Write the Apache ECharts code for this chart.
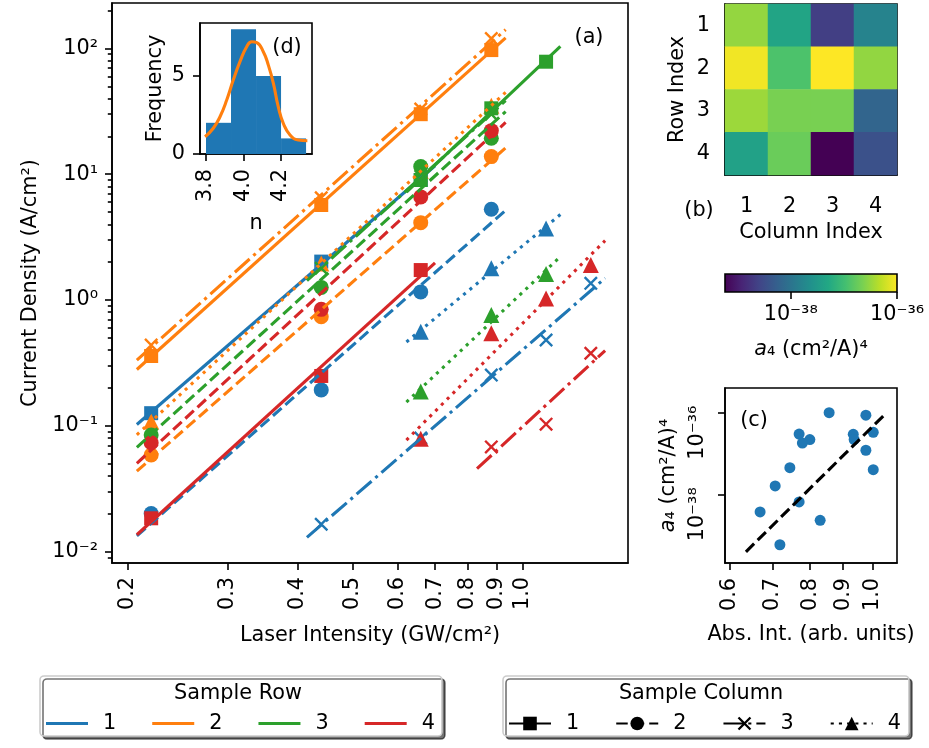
<!DOCTYPE html>
<html>
<head>
<meta charset="utf-8">
<script src="https://cdn.jsdelivr.net/npm/echarts@6/dist/echarts.min.js"></script>
<style>
  html, body { margin: 0; padding: 0; background: #fff; }
  #chart { width: 929px; height: 748px; }
</style>
</head>
<body>
<div id="chart"></div>
<script>
// ---------------- data ----------------
// Laser intensities of the measurement steps (GW/cm²)
const intensity = [0.22, 0.44, 0.66, 0.88, 1.10, 1.32];

// Current density (A/cm²) per sample (row R, column C); null = no measurement at that step
const jR1C1 = [0.126, 2.02, 9.0, null, null, null];
const jR1C2 = [0.0201, 0.193, 1.16, 5.26, null, null];
const jR1C3 = [null, 0.0165, 0.08, 0.253, 0.481, 1.357];
const jR1C4 = [null, null, 0.56, 1.79, 3.71, null];
const jR2C1 = [0.359, 5.69, 30, 97, null, null];
const jR2C2 = [0.0586, 0.736, 4.12, 13.8, null, null];
const jR2C3 = [0.438, 6.5, 33, 120, null, null];
const jR2C4 = [0.108, 1.95, 10.6, 35, null, null];
const jR3C1 = [null, null, 9.0, 33.4, 78.4, null];
const jR3C2 = [0.0845, 1.26, 11.5, 19.3, null, null];
const jR3C3 = [null, 1.79, 9.6, 30, null, null];
const jR3C4 = [null, null, 0.187, 0.76, 1.61, null];
const jR4C1 = [0.0184, 0.249, 1.73, null, null, null];
const jR4C2 = [0.0734, 0.843, 6.6, 22.2, null, null];
const jR4C3 = [null, null, null, 0.068, 0.103, 0.377];
const jR4C4 = [null, null, 0.079, 0.543, 1.03, 1.90];

// Four-photon coefficient a4 ((cm²/A)^4) per sample, one array per row, columns 1..4
const a4Row1 = [3.0e-37, 4.5e-38, 2.3e-39, 1.6e-38];
const a4Row2 = [8.7e-37, 1.2e-37, 1.0e-36, 2.95e-37];
const a4Row3 = [3.3e-37, 2.2e-37, 2.2e-37, 6.5e-39];
const a4Row4 = [4.0e-38, 1.8e-37, 5.8e-40, 3.7e-39];

// Absorption intensity (arb. units) per sample, same layout
const absRow1 = [0.769, 0.744, 0.829, 0.706];
const absRow2 = [0.976, 0.976, 0.856, 0.933];
const absRow3 = [1.002, 0.799, 0.936, 0.769];
const absRow4 = [1.002, 0.778, 0.718, 0.669];

// Trend line of a4 against absorption intensity (end points)
const trendAbs = [0.636, 1.051];
const trendA4 = [3.9e-40, 1.0e-36];

// Histogram of the fitted exponents n
const nBinEdges = [3.800, 3.934, 4.068, 4.202, 4.336];
const nCounts = [2, 8, 5, 1];
// Smooth density estimate over the histogram (frequency units)
const nCurveX = [3.795, 3.839, 3.875, 3.911, 3.946, 3.982, 4.018, 4.045, 4.072, 4.107, 4.134, 4.161, 4.187, 4.214, 4.25, 4.294, 4.343];
const nCurveY = [1.11, 1.65, 2.39, 3.46, 4.74, 5.92, 6.88, 7.2, 7.14, 6.56, 5.7, 4.53, 3.03, 1.97, 1.22, 0.90, 0.85];

// Tick positions
const intensityTicks = [0.2, 0.3, 0.4, 0.5, 0.6, 0.7, 0.8, 0.9, 1.0];
const densityDecades = [-2, -1, 0, 1, 2];
const absTicks = [0.6, 0.7, 0.8, 0.9, 1.0];
const a4Decades = [-38, -36];
const nTicks = [3.8, 4.0, 4.2];
const freqTicks = [0, 5];

// ---------------- styling ----------------
const FONT = 'DejaVu Sans';
const FS = 20.8;
const LW = 3.1;
const rowColors = ['#1f77b4', '#ff7f0e', '#2ca02c', '#d62728'];
const X_PATH = 'path://M0,1.2L1.2,0L10,8.8L8.8,10ZM8.8,0L10,1.2L1.2,10L0,8.8Z';
const colMarkers = ['rect', 'circle', X_PATH, 'triangle'];
const colSizes = [14, 15, 14, 16];
const DASHED = [11.5, 5];
const DASHDOT = [19.8, 5, 3.1, 5];
const DOTTED = [3.1, 5.1];
const colDash = ['solid', DASHED, DASHDOT, DOTTED];
const FIT_PAD = 1.06;
const viridis = ['#440154', '#482475', '#414487', '#355f8d', '#2a788e', '#21918c',
                 '#22a884', '#44bf70', '#7ad151', '#bddf26', '#fde725'];

const SUP = { '0': '⁰', '1': '¹', '2': '²', '3': '³', '4': '⁴', '5': '⁵', '6': '⁶', '7': '⁷', '8': '⁸', '9': '⁹', '-': '⁻' };
const pow10Label = v => '10' + String(Math.round(v)).split('').map(ch => SUP[ch]).join('');
const log10 = Math.log10;

// ---------------- derived ----------------
const jData = [
  [jR1C1, jR1C2, jR1C3, jR1C4],
  [jR2C1, jR2C2, jR2C3, jR2C4],
  [jR3C1, jR3C2, jR3C3, jR3C4],
  [jR4C1, jR4C2, jR4C3, jR4C4]
];
const a4Rows = [a4Row1, a4Row2, a4Row3, a4Row4];
const absRows = [absRow1, absRow2, absRow3, absRow4];

// least squares power law in log-log space
function powerFit(pts) {
  const n = pts.length;
  const mx = pts.reduce((s, p) => s + p[0], 0) / n;
  const my = pts.reduce((s, p) => s + p[1], 0) / n;
  let sxy = 0, sxx = 0;
  pts.forEach(p => { sxy += (p[0] - mx) * (p[1] - my); sxx += (p[0] - mx) * (p[0] - mx); });
  const slope = sxy / sxx;
  return { slope, intercept: my - slope * mx };
}

const series = [];
jData.forEach((row, r) => {
  row.forEach((ys, c) => {
    const pts = [];
    intensity.forEach((x, i) => { if (ys[i] != null) pts.push([log10(x), log10(ys[i])]); });
    const fit = powerFit(pts);
    const lx0 = Math.min(...pts.map(p => p[0])) - log10(FIT_PAD);
    const lx1 = Math.max(...pts.map(p => p[0])) + log10(FIT_PAD);
    const name = 'Row ' + (r + 1) + ', Column ' + (c + 1);
    series.push({
      type: 'line', name: name + ' fit', xAxisIndex: 0, yAxisIndex: 0,
      data: [[lx0, fit.intercept + fit.slope * lx0], [lx1, fit.intercept + fit.slope * lx1]],
      symbol: 'none', silent: true,
      lineStyle: { color: rowColors[r], width: LW, type: colDash[c], cap: 'butt' }
    });
    series.push({
      type: 'scatter', name: name, xAxisIndex: 0, yAxisIndex: 0,
      data: pts, symbol: colMarkers[c], symbolSize: colSizes[c],
      itemStyle: { color: rowColors[r], opacity: 1 }
    });
  });
});

// heatmap (b)
const heatData = [];
a4Rows.forEach((row, r) => row.forEach((v, c) => heatData.push([c, r, log10(v)])));
const logA4All = heatData.map(d => d[2]);
const cMin = Math.min(...logA4All), cMax = Math.max(...logA4All);
const heatIndex = series.length;
series.push({
  type: 'heatmap', name: 'a4 map', xAxisIndex: 1, yAxisIndex: 2, data: heatData,
  itemStyle: { borderWidth: 0 }
});

// scatter (c)
const absA4 = [];
a4Rows.forEach((row, r) => row.forEach((v, c) => absA4.push([log10(absRows[r][c]), log10(v)])));
series.push({
  type: 'line', name: 'trend', xAxisIndex: 2, yAxisIndex: 3, symbol: 'none', silent: true,
  data: trendAbs.map((x, i) => [log10(x), log10(trendA4[i])]),
  lineStyle: { color: '#000', width: LW, type: DASHED, cap: 'butt' }
});
series.push({
  type: 'scatter', name: 'a4 vs absorption', xAxisIndex: 2, yAxisIndex: 3,
  data: absA4, symbol: 'circle', symbolSize: 11, itemStyle: { color: '#1f77b4', opacity: 1 }
});

// histogram (d)
series.push({
  type: 'custom', name: 'n histogram', xAxisIndex: 3, yAxisIndex: 4,
  data: nCounts.map((cnt, i) => [nBinEdges[i], nBinEdges[i + 1], cnt]),
  encode: { x: [0, 1], y: 2 },
  renderItem: (params, api) => {
    const p0 = api.coord([api.value(0), api.value(2)]);
    const p1 = api.coord([api.value(1), 0]);
    return { type: 'rect', shape: { x: p0[0], y: p0[1], width: p1[0] - p0[0], height: p1[1] - p0[1] },
             style: { fill: '#1f77b4' } };
  }
});
series.push({
  type: 'line', name: 'n density', xAxisIndex: 3, yAxisIndex: 4, symbol: 'none', smooth: true,
  data: nCurveX.map((x, i) => [x, nCurveY[i]]),
  lineStyle: { color: '#ff7f0e', width: LW }
});

// legend entries
['Row 1', 'Row 2', 'Row 3', 'Row 4'].forEach((nm, r) => series.push({
  type: 'line', name: nm, xAxisIndex: 0, yAxisIndex: 0, data: [],
  itemStyle: { color: rowColors[r] }, lineStyle: { color: rowColors[r], width: LW }
}));
['Column 1', 'Column 2', 'Column 3', 'Column 4'].forEach((nm, c) => series.push({
  type: 'line', name: nm, xAxisIndex: 0, yAxisIndex: 0, data: [],
  symbol: colMarkers[c], symbolSize: colSizes[c],
  itemStyle: { color: '#000' }, lineStyle: { color: '#000', width: LW, type: colDash[c], cap: 'butt' }
}));

// ---------------- axes ----------------
const AX_LINE = { onZero: false, lineStyle: { color: '#000', width: 1.6 } };
const tick = (vals, len) => ({ show: true, customValues: vals, length: len || 7, lineStyle: { color: '#000', width: 1.6 } });
const lbl = (vals, extra) => Object.assign({ customValues: vals, fontSize: FS, fontFamily: FONT, color: '#000', margin: 14 }, extra || {});
const nameStyle = { fontSize: FS, fontFamily: FONT, color: '#000' };
const italicRich = { i: { fontSize: FS, fontFamily: FONT, fontStyle: 'italic', color: '#000' } };

const minorDensity = [];
for (let k = -3; k <= 2; k++) for (let m = 2; m <= 9; m++) {
  const v = k + log10(m);
  if (v > -2.0906 && v < 2.361) minorDensity.push(v);
}

const CB = { left: 725, top: 274, width: 172, height: 18 };

const option = {
  animation: false,
  backgroundColor: '#fff',
  textStyle: { fontFamily: FONT, color: '#000' },
  grid: [
    { left: 112, top: 3, width: 516, height: 560, show: true, borderColor: '#000', borderWidth: 1.6, backgroundColor: 'transparent', outerBoundsMode: 'none' },
    { left: 725, top: 4, width: 172, height: 171, show: true, borderColor: '#000', borderWidth: 1.6, backgroundColor: 'transparent', outerBoundsMode: 'none' },
    { left: 725, top: 388, width: 172, height: 175, show: true, borderColor: '#000', borderWidth: 1.6, backgroundColor: 'transparent', outerBoundsMode: 'none' },
    { left: 200, top: 23, width: 112, height: 131, show: true, borderColor: '#000', borderWidth: 1.6, backgroundColor: '#fff', outerBoundsMode: 'none' },
    { left: CB.left, top: CB.top, width: CB.width, height: CB.height, show: false, outerBoundsMode: 'none' }
  ],
  xAxis: [
    { type: 'value', gridIndex: 0, min: -0.7269, max: 0.1864, axisLine: AX_LINE,
      axisTick: tick(intensityTicks.map(log10)),
      axisLabel: lbl(intensityTicks.map(log10), { rotate: 90, formatter: v => Math.pow(10, v).toFixed(1) }),
      splitLine: { show: false },
      name: 'Laser Intensity (GW/cm²)', nameLocation: 'middle', nameGap: 62, nameTextStyle: nameStyle },
    { type: 'category', gridIndex: 1, data: ['1', '2', '3', '4'], axisLine: AX_LINE,
      axisTick: { alignWithLabel: true, length: 7, lineStyle: { color: '#000', width: 1.6 } },
      axisLabel: { fontSize: FS, fontFamily: FONT, color: '#000', margin: 21 },
      splitLine: { show: false }, splitArea: { show: false },
      name: 'Column Index', nameLocation: 'middle', nameGap: 47, nameTextStyle: nameStyle },
    { type: 'value', gridIndex: 2, min: -0.229, max: 0.0377, axisLine: AX_LINE,
      axisTick: tick(absTicks.map(log10)),
      axisLabel: lbl(absTicks.map(log10), { rotate: 90, margin: 15, formatter: v => Math.pow(10, v).toFixed(1) }),
      splitLine: { show: false },
      name: 'Abs. Int. (arb. units)', nameLocation: 'middle', nameGap: 61, nameTextStyle: nameStyle },
    { type: 'value', gridIndex: 3, min: 3.7679, max: 4.3678, axisLine: AX_LINE,
      axisTick: tick(nTicks),
      axisLabel: lbl(nTicks, { rotate: 90, margin: 15, formatter: v => v.toFixed(1) }),
      splitLine: { show: false },
      name: 'n', nameLocation: 'middle', nameGap: 59, nameTextStyle: nameStyle },
    { type: 'value', gridIndex: 4, min: cMin, max: cMax, axisLine: { show: false, onZero: false },
      axisTick: tick(a4Decades),
      axisLabel: lbl(a4Decades, { formatter: pow10Label, margin: 12 }),
      splitLine: { show: false },
      name: '{i|a}₄ (cm²/A)⁴', nameLocation: 'middle', nameGap: 47,
      nameTextStyle: Object.assign({ rich: italicRich }, nameStyle) }
  ],
  yAxis: [
    { type: 'value', gridIndex: 0, min: -2.0906, max: 2.361, axisLine: AX_LINE,
      axisTick: tick(densityDecades),
      axisLabel: lbl(densityDecades, { formatter: pow10Label }),
      splitLine: { show: false },
      name: 'Current Density (A/cm²)', nameLocation: 'middle', nameGap: 68, nameTextStyle: nameStyle },
    { type: 'value', gridIndex: 0, min: -2.0906, max: 2.361, position: 'left',
      axisLine: { show: false, onZero: false }, axisTick: tick(minorDensity, 4.2),
      axisLabel: { show: false }, splitLine: { show: false } },
    { type: 'category', gridIndex: 1, inverse: true, data: ['1', '2', '3', '4'], axisLine: AX_LINE,
      axisTick: { alignWithLabel: true, length: 7, lineStyle: { color: '#000', width: 1.6 } },
      axisLabel: { fontSize: FS, fontFamily: FONT, color: '#000', margin: 15 },
      splitLine: { show: false }, splitArea: { show: false },
      name: 'Row Index', nameLocation: 'middle', nameGap: 37, nameTextStyle: nameStyle },
    { type: 'value', gridIndex: 2, min: -39.684, max: -35.395, axisLine: AX_LINE,
      axisTick: tick(a4Decades),
      axisLabel: lbl(a4Decades, { rotate: 90, margin: 17, formatter: pow10Label, padding: [0, 40, 0, 0] }),
      splitLine: { show: false },
      name: '{i|a}₄ (cm²/A)⁴', nameLocation: 'middle', nameGap: 46,
      nameTextStyle: Object.assign({ rich: italicRich }, nameStyle) },
    { type: 'value', gridIndex: 3, min: 0, max: 8.4, axisLine: AX_LINE,
      axisTick: tick(freqTicks),
      axisLabel: lbl(freqTicks, { margin: 15 }),
      splitLine: { show: false },
      name: 'Frequency', nameLocation: 'middle', nameGap: 34, nameTextStyle: nameStyle },
    { type: 'value', gridIndex: 4, min: 0, max: 1, show: false }
  ],
  visualMap: [{
    type: 'continuous', show: false, seriesIndex: heatIndex, dimension: 2,
    min: cMin, max: cMax, inRange: { color: viridis }
  }],
  legend: [
    { data: ['Row 1', 'Row 2', 'Row 3', 'Row 4'], formatter: n => n.slice(-1),
      left: 40, top: 676, orient: 'horizontal', icon: 'rect', itemWidth: 42, itemHeight: 3.1, itemGap: 36,
      padding: [37, 7, 2, 6], selectedMode: false,
      textStyle: { fontSize: FS, fontFamily: FONT, color: '#000', padding: [0, 0, 0, 10] },
      backgroundColor: '#fff', borderColor: '#cccccc', borderWidth: 1.6, borderRadius: 4,
      shadowColor: 'rgba(0,0,0,0.55)', shadowBlur: 0, shadowOffsetX: 3, shadowOffsetY: 3 },
    { data: ['Column 1', 'Column 2', 'Column 3', 'Column 4'], formatter: n => n.slice(-1),
      left: 503, top: 676, orient: 'horizontal', itemWidth: 42, itemHeight: 17, itemGap: 36,
      padding: [37, 8, 2, 5], selectedMode: false,
      textStyle: { fontSize: FS, fontFamily: FONT, color: '#000', padding: [0, 0, 0, 10] },
      backgroundColor: '#fff', borderColor: '#cccccc', borderWidth: 1.6, borderRadius: 4,
      shadowColor: 'rgba(0,0,0,0.55)', shadowBlur: 0, shadowOffsetX: 3, shadowOffsetY: 3 }
  ],
  graphic: [
    { type: 'rect', z: 10, shape: { x: CB.left, y: CB.top, width: CB.width, height: CB.height },
      style: { fill: new echarts.graphic.LinearGradient(0, 0, 1, 0,
        viridis.map((c, i) => ({ offset: i / (viridis.length - 1), color: c }))), stroke: '#000', lineWidth: 1.6 } },
    { type: 'text', z: 100, x: 589, y: 38, style: { text: '(a)', fontSize: FS, fontFamily: FONT, fill: '#000', align: 'center', verticalAlign: 'middle' } },
    { type: 'text', z: 100, x: 699, y: 211, style: { text: '(b)', fontSize: FS, fontFamily: FONT, fill: '#000', align: 'center', verticalAlign: 'middle' } },
    { type: 'text', z: 100, x: 754, y: 421, style: { text: '(c)', fontSize: FS, fontFamily: FONT, fill: '#000', align: 'center', verticalAlign: 'middle' } },
    { type: 'text', z: 100, x: 287, y: 48, style: { text: '(d)', fontSize: FS, fontFamily: FONT, fill: '#000', align: 'center', verticalAlign: 'middle' } },
    { type: 'text', z: 100, x: 238, y: 694, style: { text: 'Sample Row', fontSize: FS, fontFamily: FONT, fill: '#000', align: 'center', verticalAlign: 'middle' } },
    { type: 'text', z: 100, x: 701, y: 694, style: { text: 'Sample Column', fontSize: FS, fontFamily: FONT, fill: '#000', align: 'center', verticalAlign: 'middle' } }
  ],
  series: series
};

const chart = echarts.init(document.getElementById('chart'), null, { renderer: 'canvas' });
chart.setOption(option);
</script>
</body>
</html>
